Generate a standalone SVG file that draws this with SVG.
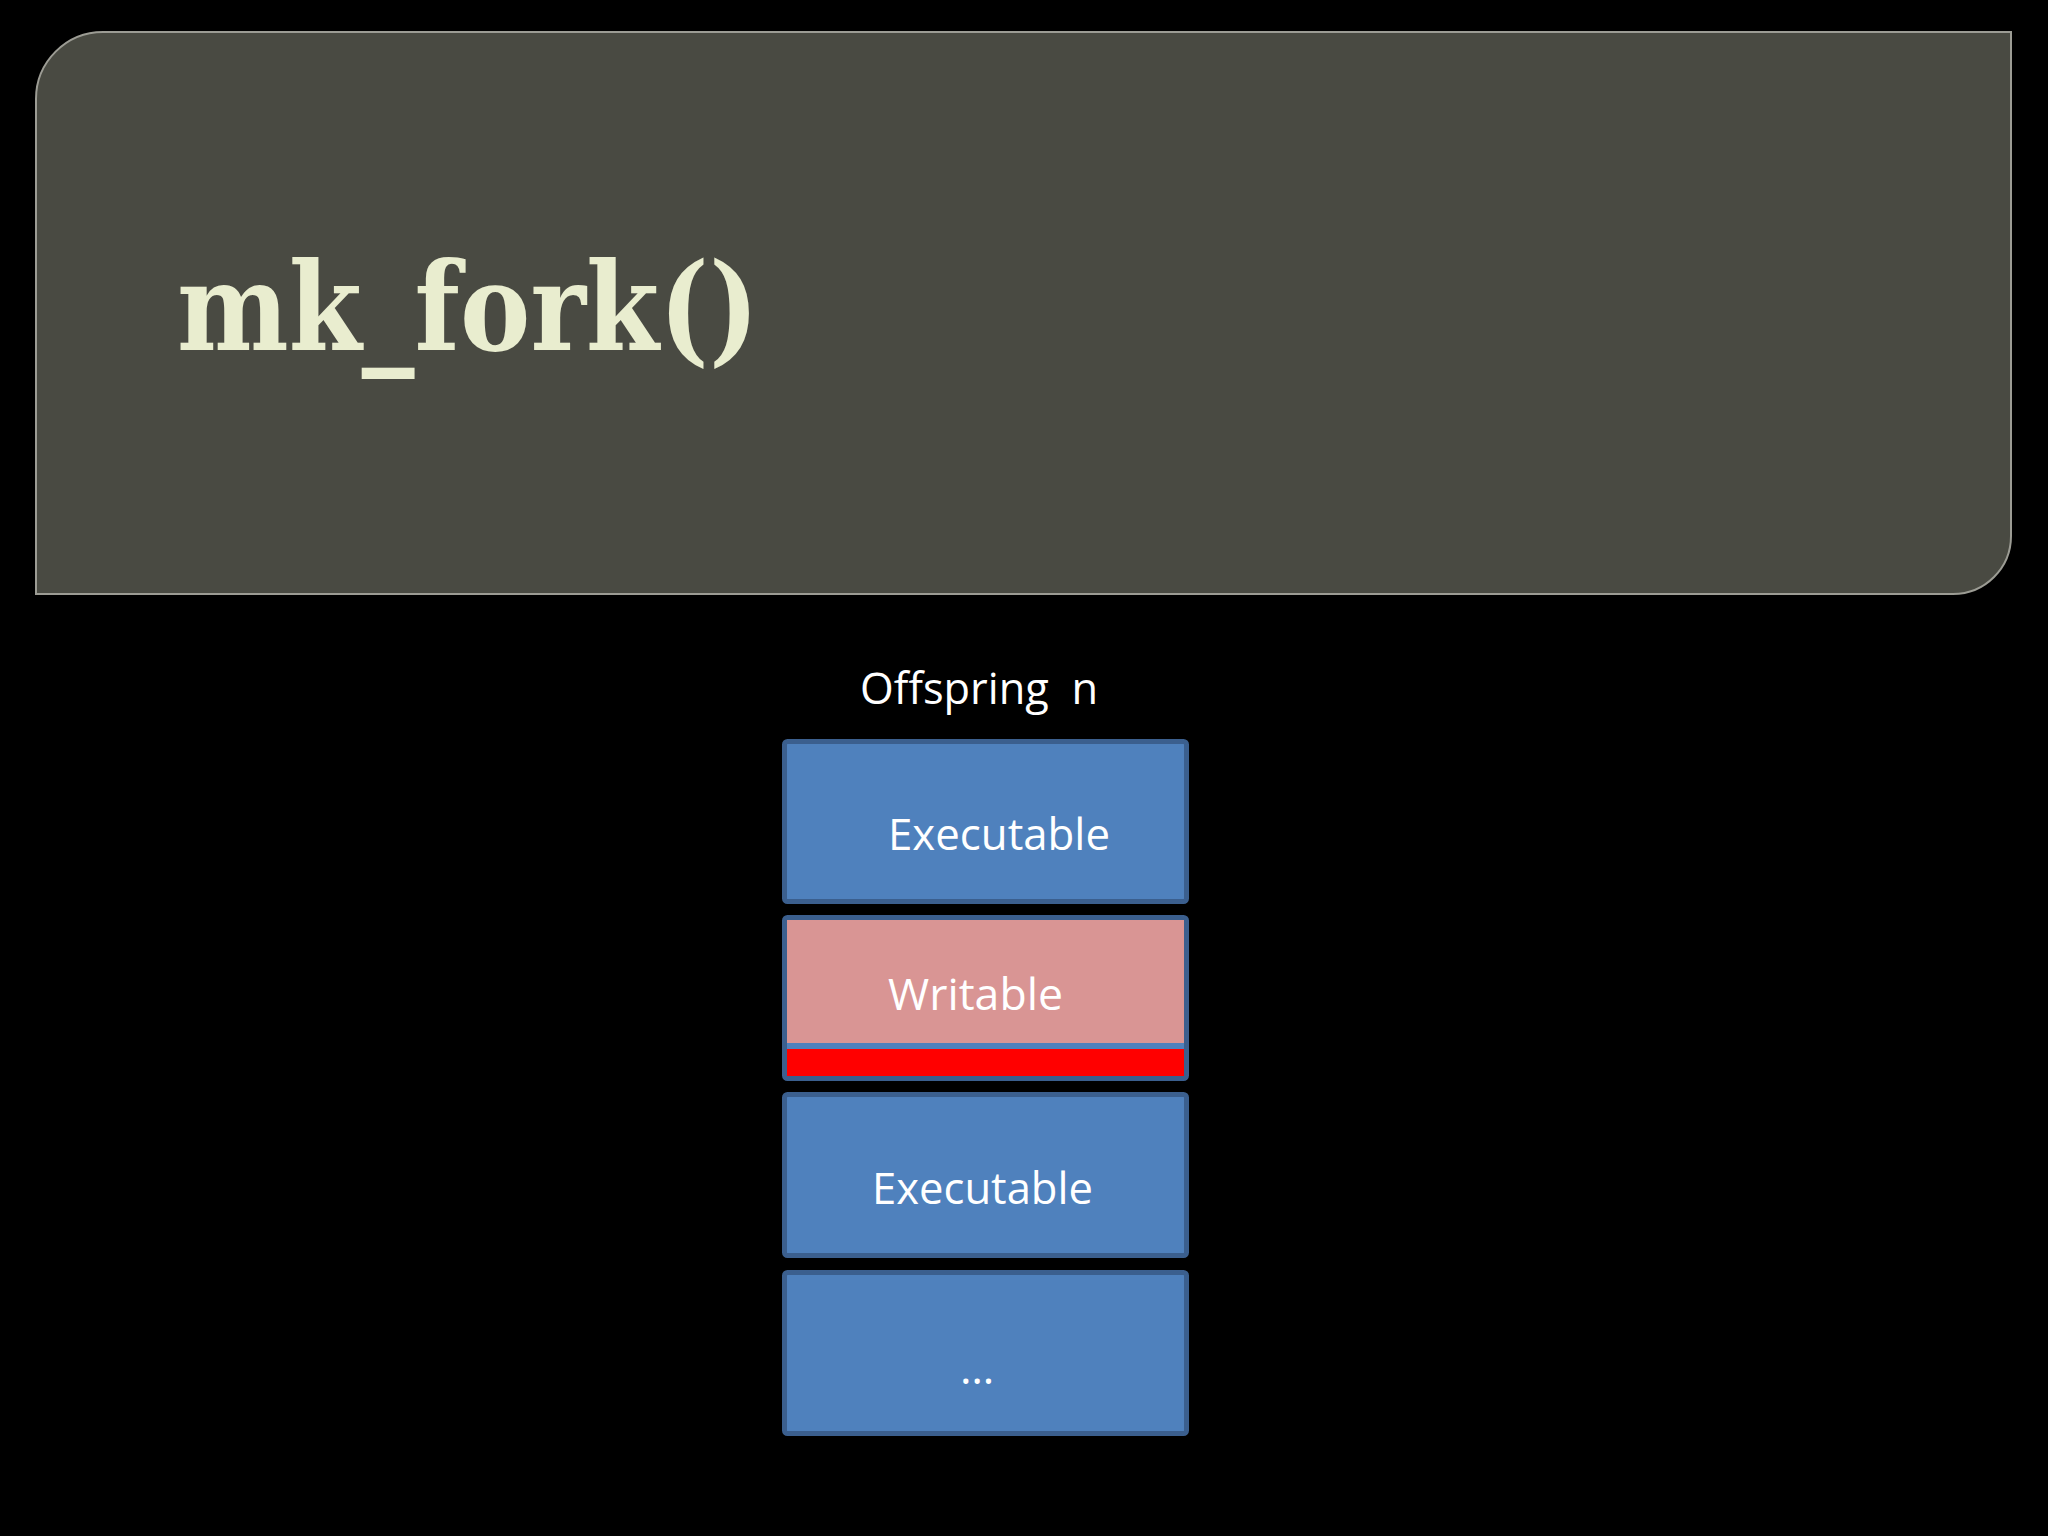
<svg xmlns="http://www.w3.org/2000/svg" width="2048" height="1536" viewBox="0 0 2048 1536">
<defs>
<style>
.blk{fill:#4f81bd;stroke:#3b5f8e;stroke-width:5}
.lbl{font-family:"Open Sans","Liberation Sans",sans-serif;font-size:44px;fill:#ffffff}
.ttl{font-family:"DejaVu Serif","Liberation Serif",serif;font-size:121px;font-weight:bold;fill:#e9edcf}
</style>
</defs>
<rect x="0" y="0" width="2048" height="1536" fill="#000000"/>
<g id="title-panel">
<path d="M36,99 A67,67 0 0 1 103,32 L2011,32 L2011,536 A58,58 0 0 1 1953,594 L36,594 Z" fill="#494a42" stroke="#9c9c94" stroke-width="2"/>
<text class="ttl" x="177" y="350" textLength="582" lengthAdjust="spacingAndGlyphs">mk_fork()</text>
</g>
<g id="offspring-label">
<text class="lbl" x="860" y="704" textLength="238" lengthAdjust="spacingAndGlyphs" xml:space="preserve">Offspring  n</text>
</g>
<g id="block-executable-1">
<rect class="blk" x="784.5" y="741.5" width="402" height="160" rx="3"/>
<text class="lbl" x="888" y="850" textLength="222" lengthAdjust="spacingAndGlyphs">Executable</text>
</g>
<g id="block-writable">
<rect class="blk" x="784.5" y="917.5" width="402" height="161" rx="3"/>
<rect x="787" y="920" width="397" height="123" fill="#d99594"/>
<rect x="787" y="1049" width="397" height="27" fill="#ff0000"/>
<text class="lbl" x="888" y="1010" textLength="175" lengthAdjust="spacingAndGlyphs">Writable</text>
</g>
<g id="block-executable-2">
<rect class="blk" x="784.5" y="1094.5" width="402" height="161" rx="3"/>
<text class="lbl" x="872" y="1204" textLength="221" lengthAdjust="spacingAndGlyphs">Executable</text>
</g>
<g id="block-more">
<rect class="blk" x="784.5" y="1272.5" width="402" height="161" rx="3"/>
<text class="lbl" x="960" y="1384">…</text>
</g>
<g id="connectors"/>
</svg>
